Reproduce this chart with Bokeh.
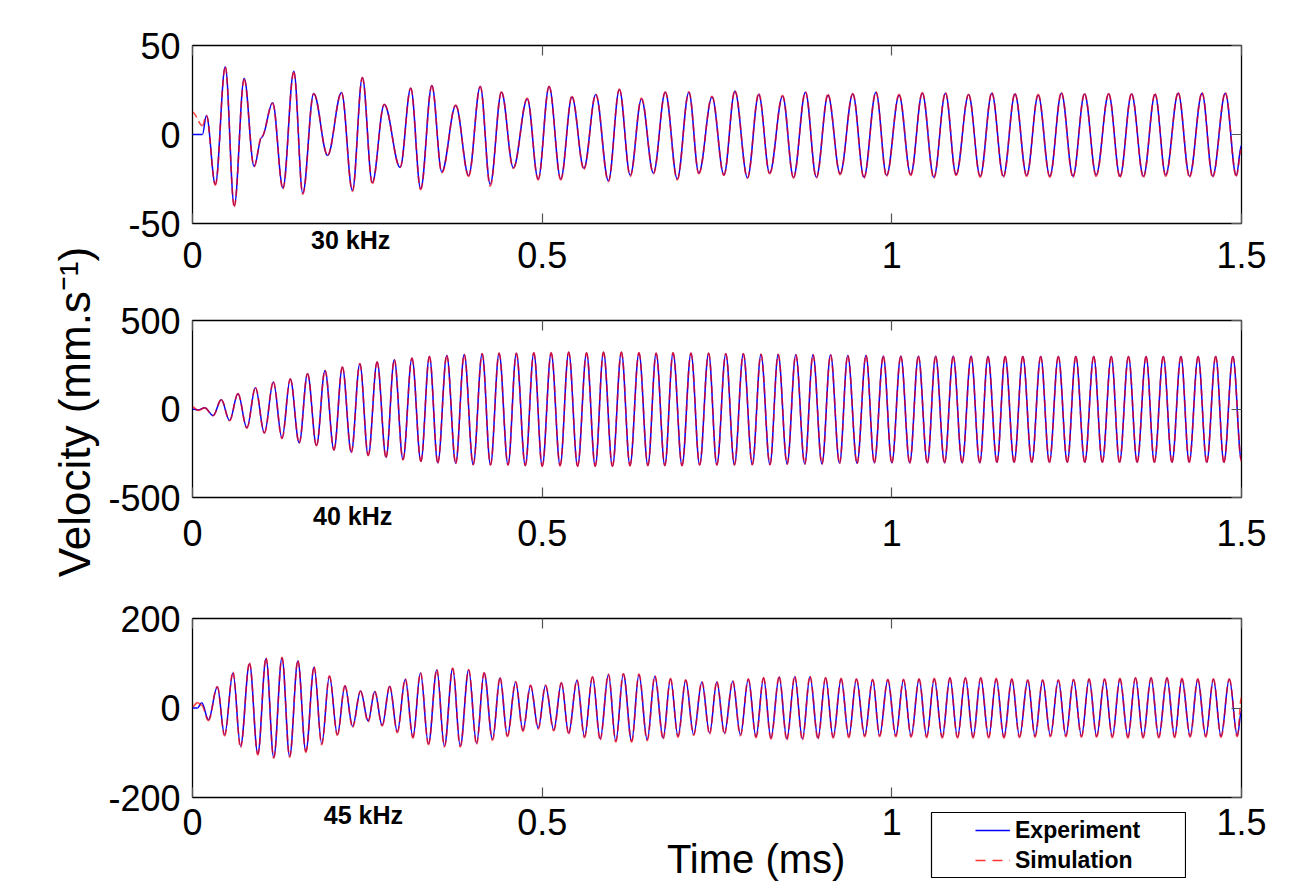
import numpy as np
from bokeh.plotting import figure
from bokeh.models import (Range1d, LinearAxis, FixedTicker, Label, Legend, LegendItem,
                          ColumnDataSource, GridBox)
from bokeh.layouts import column, row
from bokeh.embed import file_html
from bokeh.resources import INLINE

# ---------------- data ----------------
# times of successive extrema, in microseconds; velocities in mm/s
t_30khz = [0, 14.2, 19.9, 32.7, 46.9, 59.7, 73.9, 88.1, 99.0, 114.6,
           129.3, 144.9, 157.7, 173.3, 193.2, 213.1, 228.7, 242.9, 257.1, 274.2,
           296.9, 312.1, 326.3, 342.3, 356.5, 376.4, 394.9, 411.5, 425.7, 441.8,
           458.8, 478.7, 494.3, 509.9, 526.6, 542.6, 559.7, 576.7, 594.8, 610.4,
           626.0, 642.0, 659.1, 676.1, 693.2, 709.8, 724.0, 742.9, 759.9, 775.6,
           793.6, 809.7, 825.3, 843.8, 859.4, 876.5, 892.1, 908.7, 926.1, 944.2,
           960.2, 977.3, 992.5, 1010.4, 1027.0, 1043.6, 1060.1, 1076.7, 1091.9, 1109.8,
           1126.4, 1143.0, 1159.5, 1176.1, 1192.8, 1209.3, 1225.9, 1242.5, 1259.0, 1275.6,
           1292.2, 1310.1, 1326.3, 1342.8, 1359.8, 1376.4, 1391.6, 1409.5, 1425.7, 1443.6,
           1458.8, 1476.9, 1492.5, 1500]
exp_30khz = [0, 0, 10.7, -28, 38, -40, 31.6, -18, -1.5, 17.8,
             -30, 35.6, -33, 23, -11.8, 23.6, -31.5, 32, -27, 16.9,
             -18.5, 26, -30.5, 27.5, -21, 16.3, -23, 27, -28, 23.8,
             -18.7, 20, -25, 27, -25, 21, -19, 22.5, -26, 25.3,
             -23, 20, -21.7, 23.8, -25, 23.8, -21.7, 21, -22.7, 24.3,
             -24.3, 22.5, -21.7, 21.5, -24, 23.8, -24, 22, -22, 22.8,
             -24, 23.8, -23, 22, -22.5, 23.2, -24, 23.2, -22.5, 22.3,
             -23.4, 23.2, -23.4, 22.8, -23, 22, -23.4, 23.2, -23.4, 22.8,
             -22.7, 22.8, -23.4, 22.8, -23.4, 22.5, -22.7, 23.2, -23.4, 23.2,
             -23.4, 23.2, -23, -6]
sim_30khz = [12.5, 5, 10.7, -28.5, 38, -40.5, 31, -18, -1, 17.5,
             -30.5, 35, -33.5, 23, -11.5, 23.5, -32, 32, -27.5, 17,
             -18.5, 26, -31, 27.5, -21.5, 16.5, -23.5, 27, -29, 24,
             -19, 20.5, -25.5, 27, -25.5, 21.5, -19.5, 22.5, -26.5, 25.5,
             -23.5, 20.5, -22, 24, -25.5, 24, -22, 21.5, -23, 24.5,
             -24.5, 23, -22, 22, -24.5, 24, -24.5, 22.5, -22.5, 23,
             -24.5, 24, -23.5, 22.5, -23, 23.5, -24.5, 23.5, -23, 22.5,
             -24, 23.5, -24, 23, -23.5, 22.5, -24, 23.5, -24, 23,
             -23.5, 23, -24, 23, -24, 23, -23.5, 23.5, -24, 23.5,
             -24, 23.5, -23.5, -8]

t_40khz = [0, 8.1, 17.5, 29.4, 41.2, 53.0, 65.0, 77.8, 90.0, 102.8,
           115.6, 128.0, 139.8, 152.6, 164.5, 177.3, 189.5, 202.3, 214.3, 227.1,
           239.3, 251.3, 264.0, 276.8, 288.6, 301.0, 313.8, 326.6, 338.8, 350.8,
           363.6, 376.4, 388.6, 401.4, 414.2, 426.1, 438.4, 451.2, 463.1, 475.9,
           488.1, 500.1, 512.9, 525.7, 537.9, 550.7, 563.5, 575.9, 587.7, 600.5,
           613.3, 625.6, 638.4, 651.2, 663.0, 675.4, 687.2, 700.0, 712.8, 725.2,
           738.0, 749.8, 762.6, 774.9, 787.7, 800.5, 812.9, 825.7, 837.5, 850.3,
           862.7, 875.5, 887.3, 900.1, 912.4, 925.2, 937.0, 950.3, 963.1, 975.0,
           987.8, 1000.0, 1012.8, 1025.6, 1038.0, 1050.8, 1062.6, 1075.4, 1087.8, 1100.5,
           1113.3, 1125.7, 1137.5, 1150.3, 1162.1, 1174.9, 1187.3, 1200.1, 1212.9, 1225.3,
           1238.1, 1250.9, 1263.1, 1275.9, 1288.7, 1301.0, 1313.8, 1325.6, 1338.4, 1350.8,
           1363.6, 1375.4, 1388.2, 1400.6, 1413.4, 1425.2, 1438.0, 1450.3, 1463.1, 1474.9,
           1487.7, 1500]
exp_40khz = [0, -5, 7, -37, 52, -65, 86, -106, 120, -135,
             152, -165, 169, -191, 199, -206, 218, -231, 236, -244,
             255, -263, 265, -272, 278, -285, 287, -295, 297, -304,
             302, -306, 308, -314, 312, -315, 315, -315, 315, -319,
             317, -323, 317, -319, 321, -323, 317, -323, 321, -323,
             321, -319, 317, -319, 315, -319, 317, -319, 315, -315,
             315, -315, 312, -315, 312, -314, 308, -314, 308, -310,
             306, -310, 306, -310, 306, -306, 302, -306, 302, -304,
             298, -304, 298, -304, 298, -304, 298, -304, 298, -304,
             298, -304, 297, -300, 297, -300, 297, -300, 297, -300,
             297, -300, 297, -300, 297, -300, 297, -300, 297, -300,
             297, -300, 297, -300, 297, -300, 297, -300, 297, -300,
             297, -290]
sim_40khz = [12, -8, 6, -38, 53, -66, 87, -108, 121, -136,
             153, -166, 170, -192, 200, -208, 219, -232, 238, -246,
             256, -264, 266, -274, 279, -287, 288, -296, 298, -305,
             303, -308, 309, -315, 313, -317, 316, -317, 316, -320,
             318, -324, 318, -321, 322, -324, 318, -324, 322, -324,
             322, -321, 318, -320, 316, -320, 318, -320, 316, -317,
             316, -317, 313, -316, 313, -315, 310, -315, 309, -312,
             307, -312, 307, -311, 307, -308, 303, -308, 303, -305,
             300, -305, 300, -306, 299, -306, 299, -305, 299, -305,
             299, -305, 298, -302, 298, -302, 298, -302, 298, -302,
             298, -302, 298, -302, 298, -302, 298, -302, 298, -302,
             298, -302, 298, -302, 298, -302, 298, -302, 298, -302,
             298, -295]

t_45khz = [0, 7.1, 13.2, 22.8, 35.5, 45.9, 57.9, 68.7, 81.5, 93.4,
           105.2, 116.2, 128.0, 138.9, 150.7, 162.1, 173.9, 184.8, 195.8, 207.2,
           218.0, 228.9, 240.3, 251.2, 260.6, 271.2, 282.0, 292.9, 304.3, 315.2,
           326.0, 337.4, 349.4, 360.2, 372.1, 382.9, 394.9, 406.2, 417.0, 429.0,
           439.8, 450.3, 462.1, 472.5, 483.4, 494.4, 504.8, 516.6, 527.5, 537.9,
           549.8, 560.6, 572.0, 583.0, 594.8, 605.3, 616.1, 628.0, 638.4, 650.2,
           661.2, 673.0, 683.5, 694.3, 705.3, 716.6, 728.4, 739.4, 749.8, 760.7,
           772.5, 783.5, 794.8, 805.8, 816.6, 827.1, 838.9, 849.9, 861.2, 872.1,
           883.0, 894.4, 905.3, 916.1, 927.5, 938.5, 949.4, 961.2, 972.6, 982.5,
           994.3, 1005.7, 1016.7, 1027.6, 1039.0, 1049.8, 1060.7, 1072.1, 1083.1, 1093.9,
           1105.2, 1116.2, 1127.1, 1138.5, 1149.3, 1160.3, 1171.6, 1182.6, 1194.4, 1204.8,
           1215.7, 1226.7, 1238.1, 1248.9, 1259.8, 1271.2, 1282.1, 1292.9, 1304.3, 1315.3,
           1326.2, 1337.6, 1348.4, 1359.3, 1370.7, 1381.7, 1393.5, 1404.4, 1414.8, 1426.6,
           1437.5, 1448.9, 1459.9, 1470.7, 1482.6, 1494.0, 1500]
exp_45khz = [0, 0, 11.5, -26, 47, -60, 78, -85, 99, -102,
             110, -110, 112, -108, 105, -97, 91, -80, 71, -59,
             49, -41, 38, -29, 37, -39, 48, -53, 64, -65,
             78, -80, 85, -85, 88, -85, 85, -79, 78, -70,
             67, -62, 58, -50, 50, -45, 50, -49, 56, -56,
             62, -64, 69, -69, 75, -74, 76, -74, 75, -71,
             71, -67, 65, -63, 62, -59, 58, -56, 58, -56,
             60, -60, 64, -64, 67, -67, 69, -69, 70, -69,
             70, -67, 67, -65, 65, -64, 64, -62, 63, -62,
             63, -62, 63, -63, 64, -64, 65, -65, 67, -65,
             67, -65, 67, -65, 65, -65, 64, -64, 62, -63,
             62, -62, 62, -62, 63, -63, 64, -63, 64, -64,
             65, -65, 67, -65, 67, -65, 67, -64, 65, -63,
             64, -63, 64, -63, 64, -62, -6]
sim_45khz = [3, 12, 6, -28, 48, -62, 80, -88, 101, -105,
             112, -112, 113, -110, 106, -99, 92, -82, 72, -61,
             50, -43, 38, -31, 37, -40, 49, -55, 65, -67,
             79, -82, 86, -87, 89, -87, 86, -81, 79, -72,
             68, -64, 59, -52, 51, -47, 51, -51, 57, -58,
             63, -66, 70, -71, 76, -76, 77, -76, 76, -73,
             72, -69, 66, -65, 63, -61, 59, -58, 59, -58,
             61, -62, 65, -66, 68, -69, 70, -71, 71, -71,
             71, -69, 68, -67, 66, -66, 65, -64, 64, -64,
             64, -64, 64, -65, 65, -66, 66, -67, 68, -67,
             68, -67, 68, -67, 66, -67, 65, -66, 63, -65,
             63, -64, 63, -64, 64, -65, 65, -65, 65, -66,
             66, -67, 68, -67, 68, -67, 68, -66, 66, -65,
             65, -65, 65, -65, 65, -64, 24]

x_ticks = [0, 0.5, 1, 1.5]
x_tick_labels = ["0", "0.5", "1", "1.5"]
y_ticks_30 = [-50, 0, 50]
y_labels_30 = ["-50", "0", "50"]
y_ticks_40 = [-500, 0, 500]
y_labels_40 = ["-500", "0", "500"]
y_ticks_45 = [-200, 0, 200]
y_labels_45 = ["-200", "0", "200"]
panel_names = ["30 kHz", "40 kHz", "45 kHz"]
series_names = ["Experiment", "Simulation"]
x_title = "Time (ms)"
y_title = "Velocity (mm.s\u207b\u00b9)"

# ---------------- styling ----------------
FONT = "Liberation Sans"
BLUE = "#0000ff"
RED = "#ff0000"
TICK_COLOR = "#555555"
EXP_STYLE = dict(line_color=BLUE, line_width=1.5)
SIM_STYLE = dict(line_color=RED, line_width=1.7, line_alpha=0.7, line_dash="7 4")
SIM_KEY_STYLE = dict(line_color=RED, line_width=1.5, line_alpha=0.8, line_dash="10 7")
K = 0.3634  # bezier handle fraction: smooth, sinusoid-like rendering between extrema


def bare_fig(width, height, xr, yr, border=0):
    p = figure(width=width, height=height, x_range=xr, y_range=yr,
               output_backend="svg", toolbar_location=None,
               x_axis_location=None, y_axis_location=None,
               min_border_left=border, min_border_right=border,
               min_border_top=border, min_border_bottom=border)
    p.grid.visible = False
    p.outline_line_color = None
    p.background_fill_color = "white"
    p.border_fill_color = "white"
    return p


def make_fig(width, height, bl, br, bt, bb, yr):
    p = figure(width=width, height=height, x_range=Range1d(0, 1.5), y_range=Range1d(*yr),
               output_backend="svg", toolbar_location=None,
               x_axis_location=None, y_axis_location=None,
               min_border_left=bl, min_border_right=br, min_border_top=bt, min_border_bottom=bb)
    p.grid.visible = False
    p.outline_line_color = "black"
    p.outline_line_width = 1.3
    p.background_fill_color = "white"
    p.border_fill_color = "white"
    return p


def axis(p, side, ticks, labels, size="36px", style="normal", standoff=0, tick_in=0):
    ax = LinearAxis(ticker=FixedTicker(ticks=list(ticks), minor_ticks=[]))
    ax.major_label_overrides = dict(zip(ticks, labels))
    ax.major_tick_in = tick_in
    ax.major_tick_out = 0
    ax.minor_tick_in = 0
    ax.minor_tick_out = 0
    ax.major_tick_line_color = TICK_COLOR if tick_in else None
    ax.major_tick_line_width = 1.2
    ax.axis_line_color = None
    ax.major_label_text_font = FONT
    ax.major_label_text_color = "black"
    ax.major_label_text_font_size = size
    ax.major_label_text_font_style = style
    ax.major_label_standoff = standoff
    p.add_layout(ax, side)
    return ax


def ticks_only(p, side, ticks):
    return axis(p, side, ticks, [""] * len(ticks), size="1px", tick_in=10)


def wave(p, t_us, vals, **kw):
    n = min(len(t_us), len(vals))
    t = np.asarray(t_us[:n], float) / 1000.0
    v = np.asarray(vals[:n], float)
    dt = np.diff(t)
    src = ColumnDataSource(dict(x0=t[:-1], y0=v[:-1], x1=t[1:], y1=v[1:],
                                cx0=t[:-1] + K * dt, cy0=v[:-1],
                                cx1=t[1:] - K * dt, cy1=v[1:]))
    return p.bezier(x0="x0", y0="y0", x1="x1", y1="y1", cx0="cx0", cy0="cy0",
                    cx1="cx1", cy1="cy1", source=src, **kw)


def draw_series(p, t, e, s):
    wave(p, t, e, **EXP_STYLE)
    wave(p, t, s, **SIM_STYLE)


def build_panel(p, yt, yl, name_x, name, name_standoff, num_standoff):
    ticks_only(p, "above", x_ticks)
    ticks_only(p, "right", yt)
    axis(p, "left", yt, yl, standoff=12)
    ticks_only(p, "below", x_ticks)
    axis(p, "below", [name_x], [name], size="25px", style="bold", standoff=name_standoff)
    axis(p, "below", x_ticks, x_tick_labels, standoff=num_standoff)


# ---------------- left strip with the y title ----------------
strip = bare_fig(100, 890, Range1d(0, 100), Range1d(890, 0))
strip.add_layout(Label(x=74, y=411.5, text=y_title, text_font=FONT, text_font_size="44px",
                       text_align="center", text_baseline="middle", angle=np.pi / 2,
                       text_color="black"))

# ---------------- panel 1 (30 kHz) ----------------
p1 = make_fig(1191, 290, 92, 44, 45, 67, (-50, 50))
build_panel(p1, y_ticks_30, y_labels_30, 0.2261, panel_names[0], 2, -15)
draw_series(p1, t_30khz, exp_30khz, sim_30khz)

# ---------------- panel 2 (40 kHz) ----------------
p2 = make_fig(1191, 290, 91, 46, 30, 83, (-500, 500))
build_panel(p2, y_ticks_40, y_labels_40, 0.2291, panel_names[1], 4, -13)
draw_series(p2, t_40khz, exp_40khz, sim_40khz)

# ---------------- panel 3 (45 kHz) ----------------
p3 = make_fig(1191, 310, 85, 50, 38, 93, (-200, 200))
build_panel(p3, y_ticks_45, y_labels_45, 0.2443, panel_names[2], 3, -23)
axis(p3, "below", [0.806], [x_title], size="40px", standoff=-1)
draw_series(p3, t_45khz, exp_45khz, sim_45khz)

# ---------------- legend (framed box overlaid below panel 3) ----------------
# the key's line renderers reuse the 45 kHz series; the ranges keep them out of view
leg = bare_fig(256, 67, Range1d(-3, -2), Range1d(-3, -2), border=1)
leg.outline_line_color = "black"
leg.outline_line_width = 1.2
n45 = min(len(t_45khz), len(exp_45khz), len(sim_45khz))
t45_ms = np.asarray(t_45khz[:n45], float) / 1000.0
r_exp = leg.line(x=t45_ms, y=np.asarray(exp_45khz[:n45], float), **EXP_STYLE)
r_sim = leg.line(x=t45_ms, y=np.asarray(sim_45khz[:n45], float), **SIM_KEY_STYLE)
leg.add_layout(Legend(items=[LegendItem(label=series_names[0], renderers=[r_exp]),
                             LegendItem(label=series_names[1], renderers=[r_sim])],
                      location=(44, 2), orientation="vertical",
                      border_line_color=None, background_fill_alpha=0.0,
                      padding=0, margin=0, spacing=0, label_height=30, glyph_height=20,
                      glyph_width=35, label_standoff=5,
                      label_text_font=FONT, label_text_font_size="23px",
                      label_text_font_style="bold", label_text_color="black"))

main = row(strip, column(p1, p2, p3, spacing=0), spacing=0)
try:
    page = GridBox(children=[(main, 0, 0, 3, 3), (leg, 1, 1)],
                   rows=["811px", "67px", "12px"], cols=["930px", "256px", "105px"],
                   spacing=0)
except Exception:
    page = main

open("out.html", "w").write(file_html(page, INLINE, "chart"))
